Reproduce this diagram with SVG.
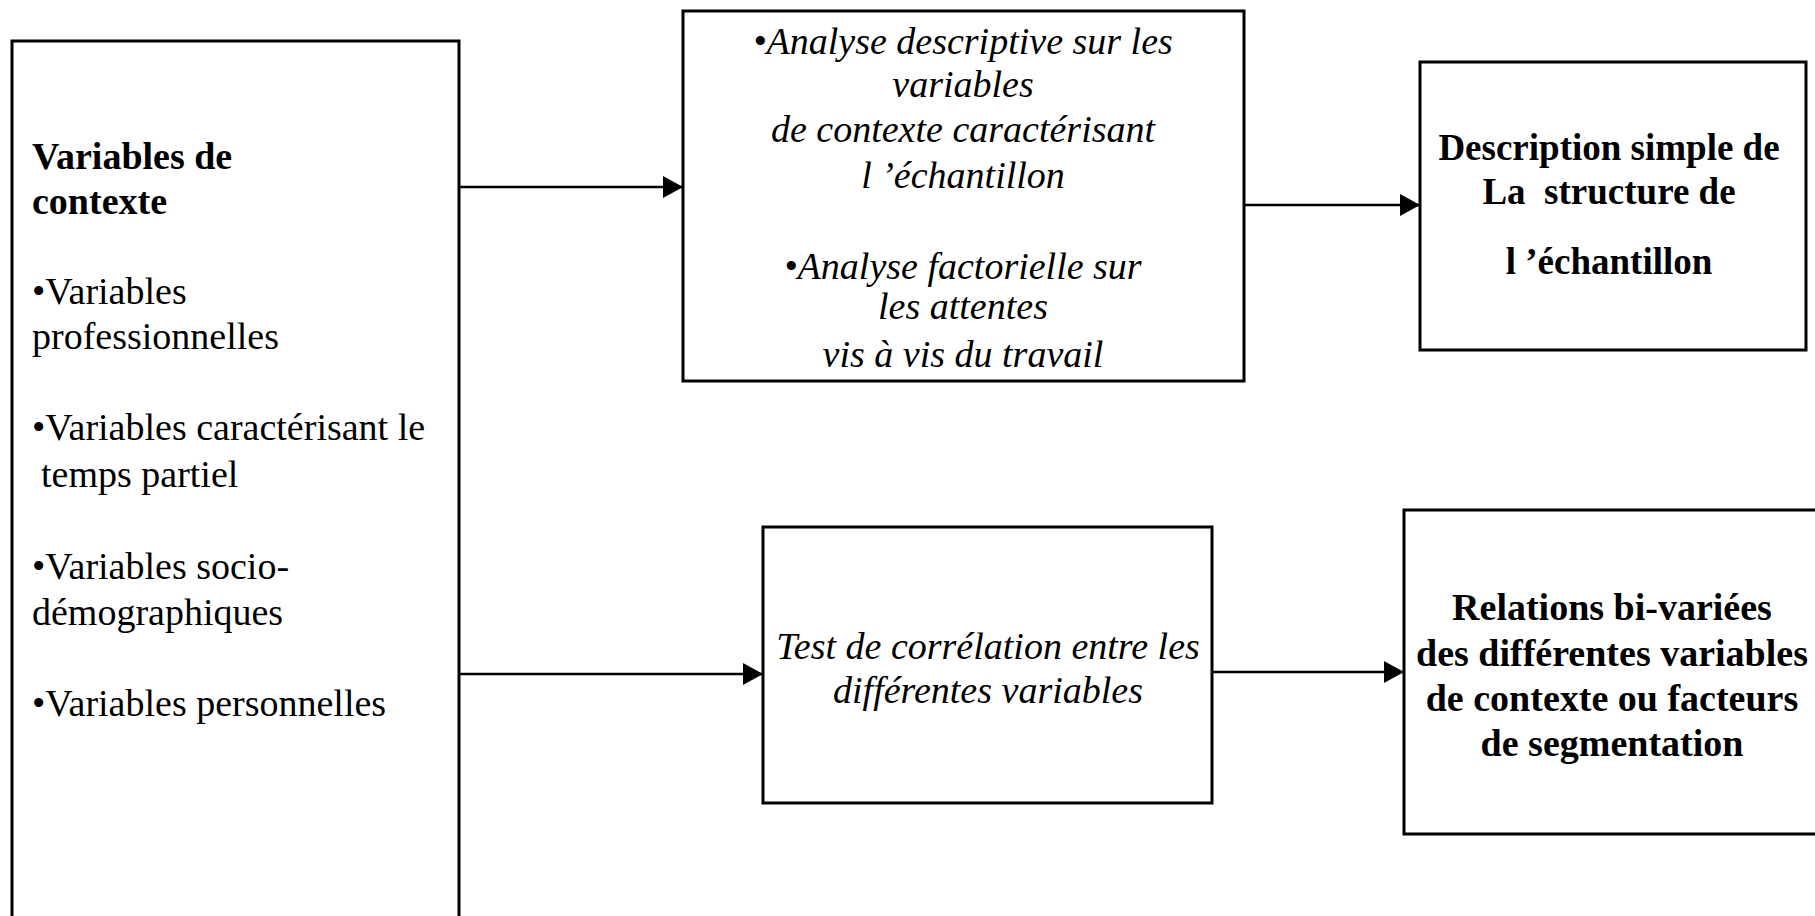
<svg xmlns="http://www.w3.org/2000/svg" width="1815" height="916" viewBox="0 0 1815 916">
  <style>
    .box { fill: #ffffff; stroke: #000000; stroke-width: 3; }
    .link { fill: none; stroke: #000000; stroke-width: 2.5; }
    text { font-family: "Liberation Serif", "Times New Roman", serif; font-size: 38px; fill: #000000; }
    .b { font-weight: bold; }
    .bs { font-weight: bold; font-size: 37px; }
    .i { font-style: italic; }
    .c { text-anchor: middle; }
    .pre { white-space: pre; }
  </style>
  <defs>
    <marker id="arrow" viewBox="0 0 20 22" refX="20" refY="11" markerWidth="20" markerHeight="22" markerUnits="userSpaceOnUse" orient="auto">
      <path d="M0,0 L20,11 L0,22 Z" fill="#000000"/>
    </marker>
  </defs>

  <rect width="1815" height="916" fill="#ffffff"/>

  <!-- connectors -->
  <g id="connectors">
    <line class="link" x1="459" y1="187" x2="683" y2="187" marker-end="url(#arrow)"/>
    <line class="link" x1="1244" y1="205" x2="1420" y2="205" marker-end="url(#arrow)"/>
    <line class="link" x1="459" y1="674" x2="763" y2="674" marker-end="url(#arrow)"/>
    <line class="link" x1="1212" y1="672" x2="1404" y2="672" marker-end="url(#arrow)"/>
  </g>

  <!-- context variables (runs past the bottom edge) -->
  <g id="context">
    <rect class="box" x="12" y="41" width="447" height="900"/>
    <text class="b" x="32" y="169">Variables de</text>
    <text class="b" x="32" y="214">contexte</text>
    <text x="32" y="304">•Variables</text>
    <text x="32" y="349">professionnelles</text>
    <text x="32" y="440">•Variables caractérisant le</text>
    <text x="41" y="487">temps partiel</text>
    <text x="32" y="579">•Variables socio-</text>
    <text x="32" y="625">démographiques</text>
    <text x="32" y="716">•Variables personnelles</text>
  </g>

  <!-- descriptive and factor analysis -->
  <g id="analysis">
    <rect class="box" x="683" y="11" width="561" height="370"/>
    <text class="i c" x="963" y="54">•Analyse descriptive sur les</text>
    <text class="i c" x="963" y="97">variables</text>
    <text class="i c" x="963" y="142">de contexte caractérisant</text>
    <text class="i c" x="963" y="188">l ’échantillon</text>
    <text class="i c" x="963" y="279">•Analyse factorielle sur</text>
    <text class="i c" x="963" y="319">les attentes</text>
    <text class="i c" x="963" y="367">vis à vis du travail</text>
  </g>

  <!-- sample structure -->
  <g id="structure">
    <rect class="box" x="1420" y="62" width="386" height="288"/>
    <text class="bs c" x="1609" y="160">Description simple de</text>
    <text class="bs c pre" x="1609" y="204">La  structure de</text>
    <text class="bs c" x="1609" y="274">l ’échantillon</text>
  </g>

  <!-- correlation test -->
  <g id="correlation">
    <rect class="box" x="763" y="527" width="449" height="276"/>
    <text class="i c" x="988" y="659">Test de corrélation entre les</text>
    <text class="i c" x="988" y="703">différentes variables</text>
  </g>

  <!-- bivariate relations (runs past the right edge) -->
  <g id="relations">
    <rect class="box" x="1404" y="510" width="430" height="324"/>
    <text class="b c" x="1612" y="620">Relations bi-variées</text>
    <text class="b c" x="1612" y="666">des différentes variables</text>
    <text class="b c" x="1612" y="711">de contexte ou facteurs</text>
    <text class="b c" x="1612" y="756">de segmentation</text>
  </g>
</svg>
